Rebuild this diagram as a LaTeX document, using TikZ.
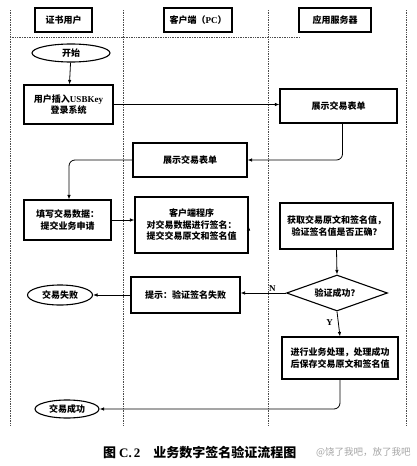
\documentclass[tikz,border=0pt]{standalone}
\usepackage{fontspec}
\setmainfont{Noto Sans CJK SC}
\newfontfamily\lat{Liberation Serif}
\usetikzlibrary{shapes.geometric,arrows.meta,calc}
\begin{document}
\begin{tikzpicture}[x=1pt,y=-1pt,
  lane/.style={line width=0.9pt,black!70,dash pattern=on 0.7pt off 1pt},
  box/.style={draw,line width=1.1pt,rectangle,inner sep=1pt,align=center,font=\fontsize{9}{11.5}\selectfont\bfseries},
  oval/.style={draw,line width=1.1pt,ellipse,inner sep=0pt,font=\fontsize{9}{11}\selectfont\bfseries},
  dia/.style={draw,line width=1.1pt,diamond,inner sep=0pt,aspect=2.8,font=\fontsize{9}{11}\selectfont\bfseries},
  flow/.style={line width=0.8pt,-{Latex[length=4.5pt,width=3.5pt]}},
  lbl/.style={font=\lat\fontsize{9}{11}\selectfont\bfseries,inner sep=1pt}]
\useasboundingbox (0,0) rectangle (417,466);
\fill[white] (0,0) rectangle (417,466);
% lanes
\draw[lane] (10,10) -- (10,425);
\draw[lane] (123,10) -- (123,425);
\draw[lane] (268,10) -- (268,425);
\draw[lane] (406,10) -- (406,425);
\draw[lane] (10,37) -- (300,37);
% headers
\node[box,minimum width=57pt,minimum height=24pt] (h1) at (63.5,20) {证书用户};
\node[box,minimum width=68pt,minimum height=24pt] (h2) at (198,20) {客户端（{\lat PC}）};
\node[box,minimum width=72pt,minimum height=24pt] (h3) at (335,20) {应用服务器};
% nodes
\node[oval,minimum width=78pt,minimum height=18pt] (start) at (71,53) {开始};
\node[box,minimum width=89pt,minimum height=39pt] (b1) at (68.5,104.5) {用户插入{\lat USBKey}\\登录系统};
\node[box,minimum width=117pt,minimum height=34pt] (s1) at (338.5,106) {展示交易表单};
\node[box,minimum width=114pt,minimum height=34pt] (c1) at (190,160) {展示交易表单};
\node[box,minimum width=87pt,minimum height=40pt] (b2) at (67.5,220) {填写交易数据：\\提交业务申请};
\node[box,minimum width=113pt,minimum height=56pt] (c2) at (191.5,225) {客户端程序\\对交易数据进行签名：\\提交交易原文和签名值};
\node[box,minimum width=113pt,minimum height=46pt] (s2) at (336.5,226) {获取交易原文和签名值，\\验证签名值是否正确？};
\node[dia,minimum width=101pt,minimum height=36pt] (d) at (337,293) {验证成功？};
\node[box,minimum width=109pt,minimum height=36pt] (c3) at (185.5,295) {提示：验证签名失败};
\node[oval,minimum width=65pt,minimum height=20pt] (fail) at (60,295) {交易失败};
\node[box,minimum width=116pt,minimum height=42pt] (s3) at (340,358) {进行业务处理，处理成功\\后保存交易原文和签名值};
\node[oval,minimum width=64pt,minimum height=18pt] (succ) at (67,409) {交易成功};
% connectors
\draw[flow] (start) -- (b1);
\draw[flow] (b1.east) -- (b1.east -| s1.west);
\draw[flow,rounded corners=6pt] ($(s1.south)+(4,0)$) |- (c1.east);
\draw[flow,rounded corners=6pt] (c1.west) -| ($(b2.north)+(1.5,0)$);
\draw[flow] (b2.east) -- (b2.east -| c2.west);
\draw[flow] ($(c2.east)+(0,1)$) -- ($(c2.east)+(0,1)$ -| s2.west);
\draw[flow] (s2.south) -- (d.north);
\draw[flow] (d.west) -- node[lbl,pos=0.3,above] (nl) {N} (d.west -| c3.east);
\draw[flow] (c3.west) -- (fail.east);
\draw[flow] (d.south) -- node[lbl,left=4pt,pos=0.45] (yl) {Y} (s3.north);
\draw[flow,rounded corners=6pt] (s3.south) |- (succ.east);
% caption
\node[anchor=west,inner sep=0pt,font=\fontsize{13}{15}\selectfont\bfseries] (cap) at (103,453) {图 {\lat C.\,2}\hspace{1em}业务数字签名验证流程图};
\node[anchor=west,inner sep=0pt,text=black!35,font=\fontsize{9.5}{11}\selectfont] (wm) at (316,452) {@饶了我吧，放了我吧};
\end{tikzpicture}
\end{document}
